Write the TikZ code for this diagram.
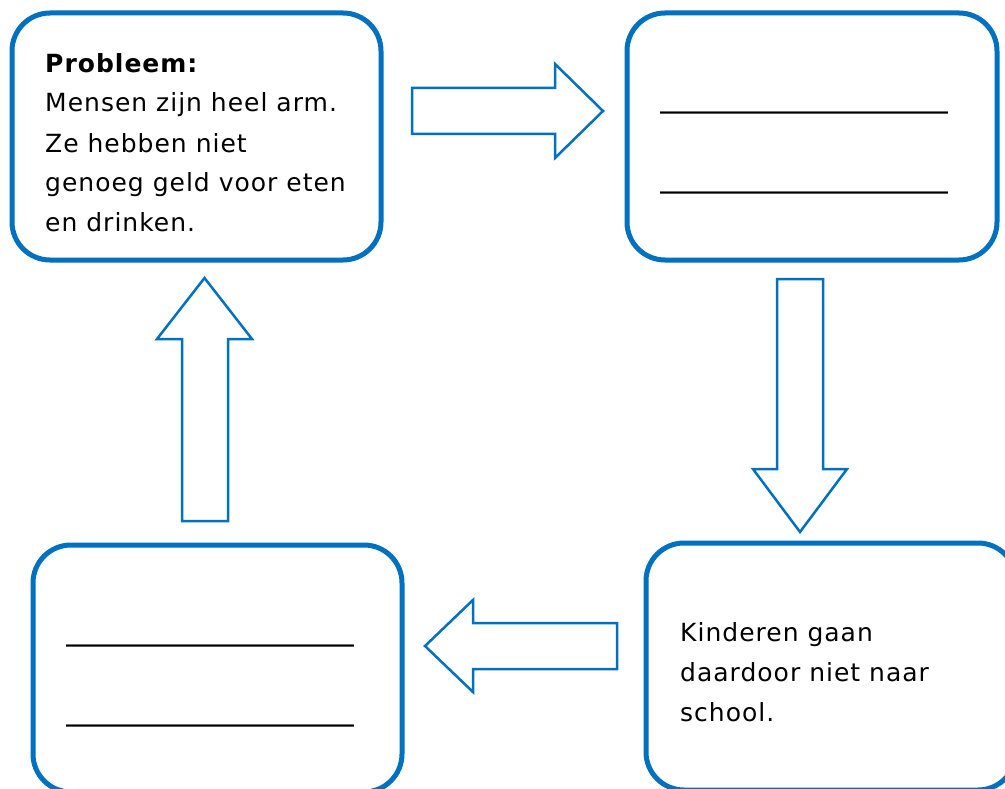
\documentclass[tikz,border=0pt]{standalone}
\usepackage{fontspec}
\setmainfont{DejaVu Sans}[LetterSpace=4.0]
\newfontfamily\blankfont{DejaVu Sans}
\definecolor{cblue}{HTML}{0070C0}
\tikzset{
  box/.style={draw=cblue, line width=5pt, rounded corners=38pt, fill=white, inner sep=0pt},
  blockarrow/.style={draw=cblue, line width=2.5pt, line join=miter, fill=white},
  txt/.style={anchor=base west, inner sep=0pt, align=left, font=\fontsize{25}{40}\selectfont},
  blank/.style={anchor=base west, inner sep=0pt, font=\blankfont\bfseries\fontsize{24}{40}\selectfont}
}
\begin{document}
\begin{tikzpicture}[x=1pt,y=-1pt]
\useasboundingbox (0,0) rectangle (1005,789);
\clip (0,0) rectangle (1005,789);
% boxes
\node[box, minimum width=369pt, minimum height=247pt] (tl) at (196.5,136.5) {};
\node[box, minimum width=370pt, minimum height=247pt] (tr) at (812,136.5) {};
\node[box, minimum width=369pt, minimum height=247pt] (bl) at (217.5,668.5) {};
\node[box, minimum width=370pt, minimum height=247pt] (br) at (831,666.5) {};
% texts (base anchor = baseline of the last line)
\node[txt] (tltext) at (45,232) {\textbf{Probleem:}\\Mensen zijn heel arm.\\Ze hebben niet\\genoeg geld voor eten\\en drinken.};
\node[blank] (tr1) at (660,109) {\_\_\_\_\_\_\_\_\_\_\_\_\_\_\_\_\_\_\_\_\_\_\_\_};
\node[blank] (tr2) at (660,189) {\_\_\_\_\_\_\_\_\_\_\_\_\_\_\_\_\_\_\_\_\_\_\_\_};
\node[blank] (bl1) at (66,641) {\_\_\_\_\_\_\_\_\_\_\_\_\_\_\_\_\_\_\_\_\_\_\_\_};
\node[blank] (bl2) at (66,721) {\_\_\_\_\_\_\_\_\_\_\_\_\_\_\_\_\_\_\_\_\_\_\_\_};
\node[txt] (brtext) at (680,721) {Kinderen gaan\\daardoor niet naar\\school.};
% block arrows
\draw[blockarrow] (412,88) -- (555,88) -- (555,64) -- (603,111) -- (555,158) -- (555,134) -- (412,134) -- cycle;
\draw[blockarrow] (777,279) -- (823,279) -- (823,469) -- (847,469) -- (800,532) -- (753,469) -- (777,469) -- cycle;
\draw[blockarrow] (617,623) -- (473,623) -- (473,600) -- (425,646) -- (473,692) -- (473,669) -- (617,669) -- cycle;
\draw[blockarrow] (182,521) -- (182,339) -- (157,339) -- (204.5,278) -- (252,339) -- (228,339) -- (228,521) -- cycle;
\end{tikzpicture}
\end{document}
